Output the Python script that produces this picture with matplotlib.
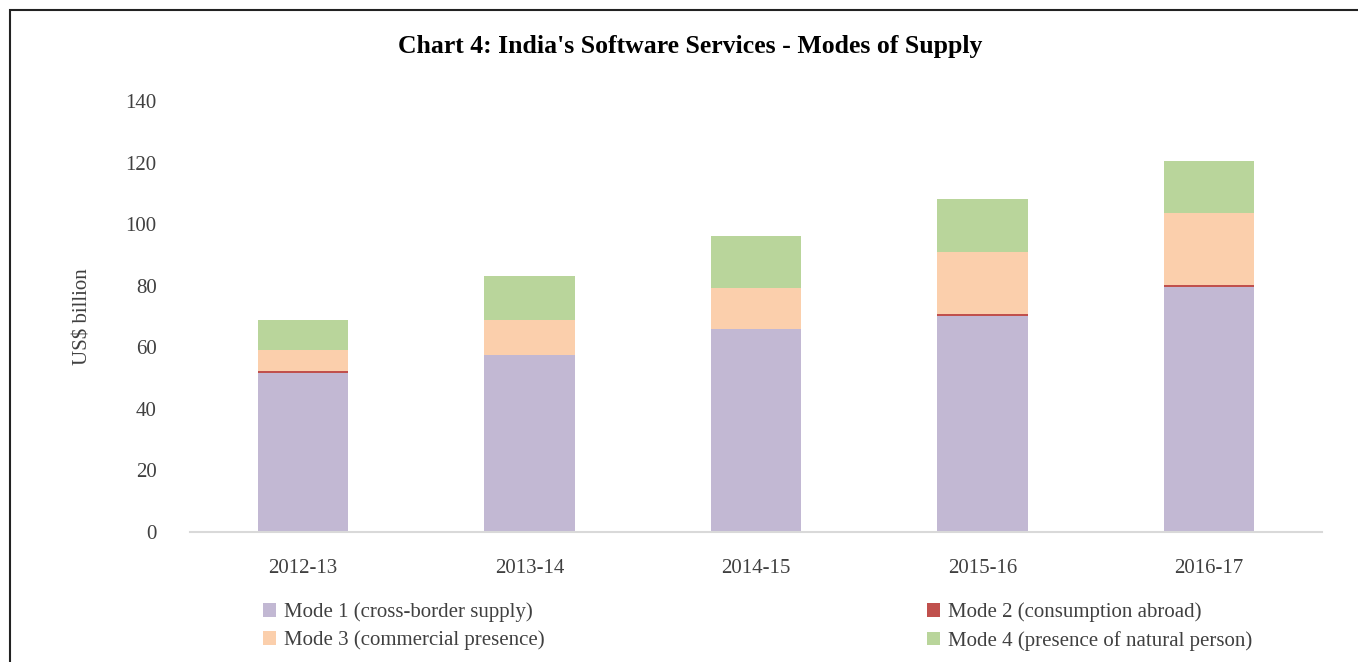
import matplotlib
matplotlib.use("Agg")
import matplotlib.pyplot as plt
import numpy as np
from matplotlib.patches import Rectangle

plt.rcParams['font.family'] = ['Liberation Serif', 'DejaVu Serif']

years = ['2012-13', '2013-14', '2014-15', '2015-16', '2016-17']
mode1 = [51.6, 57.4, 65.8, 70.1, 79.7]
mode2 = [0.8, 0.1, 0.1, 0.6, 0.6]
mode3 = [6.8, 11.3, 13.3, 20.1, 23.4]
mode4 = [9.5, 14.3, 17.0, 17.3, 16.8]

labels = ['Mode 1 (cross-border supply)', 'Mode 2 (consumption abroad)',
          'Mode 3 (commercial presence)', 'Mode 4 (presence of natural person)']
colors = ['#c2b8d3', '#c0504d', '#fbcfac', '#b9d59b']

fig = plt.figure(figsize=(13.58, 6.62), dpi=100)
ax = fig.add_axes([0.1399, 0.1968, 0.8336, 0.6506])

x = np.arange(len(years))
width = 0.4
bottom = np.zeros(len(years))
handles = []
for vals, col, lab in zip([mode1, mode2, mode3, mode4], colors, labels):
    b = ax.bar(x, vals, width, bottom=bottom, color=col, label=lab,
               linewidth=0)
    handles.append(b)
    bottom += np.array(vals)

ax.set_xlim(-0.5, len(years) - 0.5)
ax.set_ylim(0, 140)
ax.set_yticks(np.arange(0, 141, 20))
ax.set_xticks(x)
ax.set_xticklabels(years)
ax.tick_params(length=0, labelsize=15, colors='#404040')
ax.tick_params(axis='x', pad=20)
ax.tick_params(axis='y', pad=24)
for s in ['top', 'right', 'left']:
    ax.spines[s].set_visible(False)
ax.spines['bottom'].set_color('#d9d9d9')
ax.spines['bottom'].set_linewidth(1.5)
ax.set_ylabel('US$ billion', fontsize=15, color='#404040', labelpad=24)

fig.text(0.508, 0.93, "Chart 4: India's Software Services - Modes of Supply",
         ha='center', va='center', fontsize=18.5, fontweight='bold', color='black')

leg_kw = dict(frameon=False, fontsize=15, handlelength=0.6, handleheight=0.6,
              handletextpad=0.4, labelspacing=0.4, labelcolor='#404040')
fig.legend([handles[0], handles[2]], [labels[0], labels[2]],
           loc='upper left', bbox_to_anchor=(0.180, 0.118), **leg_kw)
fig.legend([handles[1], handles[3]], [labels[1], labels[3]],
           loc='upper left', bbox_to_anchor=(0.669, 0.118), **leg_kw)

# outer frame
fig.patches.append(Rectangle((10 / 1358, -0.1), 1.2, 1 - 10 / 662 + 0.1,
                             transform=fig.transFigure, fill=False,
                             edgecolor='#222222', linewidth=1.5))

fig.savefig('out.png', dpi=100)
